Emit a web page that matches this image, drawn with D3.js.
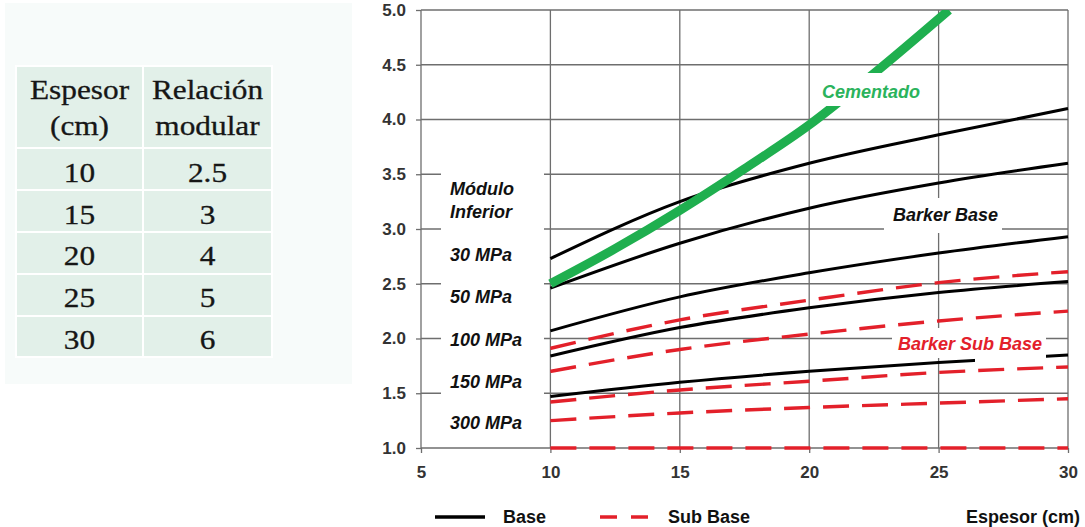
<!DOCTYPE html>
<html>
<head>
<meta charset="utf-8">
<script src="https://cdn.jsdelivr.net/npm/d3@7"></script>
<style>
  html, body { margin: 0; padding: 0; background: #ffffff; }
  svg { display: block; }
</style>
</head>
<body>
<svg id="chart" width="1085" height="527"></svg>
<script>
// Espesor de capa (cm) en los que se leen las curvas
const espesor = [10, 15, 20, 25, 30];

// Curvas Barker Base (relación modular) por módulo inferior
const base30  = [2.73, 3.25, 3.60, 3.86, 4.10];
const base50  = [2.46, 2.87, 3.19, 3.42, 3.60];
const base100 = [2.07, 2.38, 2.60, 2.78, 2.93];
const base150 = [1.84, 2.10, 2.28, 2.42, 2.52];
const base300 = [1.47, 1.60, 1.70, 1.78, 1.85];

// Curvas Barker Sub Base
const sub30  = [1.91, 2.17, 2.35, 2.51, 2.61];
const sub50  = [1.70, 1.90, 2.04, 2.16, 2.25];
const sub100 = [1.42, 1.53, 1.61, 1.69, 1.74];
const sub150 = [1.25, 1.32, 1.37, 1.41, 1.45];
const sub300 = [1.00, 1.00, 1.00, 1.00, 1.00];

// Curva para material cementado
const cementadoEspesor = [10, 12.5, 15, 17.5, 20, 22.5, 25.4];
const cementadoRelacion = [2.5, 2.82, 3.17, 3.55, 3.95, 4.42, 5.0];

// Etiquetas de módulo inferior
const moduloLabels = ["30 MPa", "50 MPa", "100 MPa", "150 MPa", "300 MPa"];
const moduloLabelY = [2.76, 2.38, 1.99, 1.60, 1.23];

// Ejes
const xTicks = [5, 10, 15, 20, 25, 30];
const yTicks = [1.0, 1.5, 2.0, 2.5, 3.0, 3.5, 4.0, 4.5, 5.0];

// Tabla de relación modular
const tablaHeader = [["Espesor", "(cm)"], ["Relación", "modular"]];
const tablaEspesor = ["10", "15", "20", "25", "30"];
const tablaRelacion = ["2.5", "3", "4", "5", "6"];

const svg = d3.select("#chart");

// ---------- panel izquierdo con la tabla ----------
svg.append("rect").attr("x", 5).attr("y", 3).attr("width", 347).attr("height", 381)
  .attr("fill", "#f7fbfa");

const colX = [16, 143, 272];
const rowY = [66, 148, 190, 232, 274, 316, 357];
const tabla = svg.append("g");
for (let r = 0; r < rowY.length - 1; r++) {
  for (let c = 0; c < 2; c++) {
    tabla.append("rect")
      .attr("x", colX[c]).attr("y", rowY[r])
      .attr("width", colX[c + 1] - colX[c]).attr("height", rowY[r + 1] - rowY[r])
      .attr("fill", "#e2f0e9").attr("stroke", "#ffffff").attr("stroke-width", 2);
  }
}
function celda(txt, cx, by) {
  tabla.append("text")
    .attr("transform", `translate(${cx},${by}) scale(1.16,1)`)
    .attr("text-anchor", "middle")
    .attr("font-family", "'Liberation Serif', 'Times New Roman', serif")
    .attr("font-size", 27).attr("fill", "#161616")
    .attr("stroke", "#161616").attr("stroke-width", 0.3)
    .text(txt);
}
const colC = [79.5, 207.5];
tablaHeader.forEach((h, c) => {
  celda(h[0], colC[c], 99);
  celda(h[1], colC[c], 135);
});
tablaEspesor.forEach((t, i) => celda(t, colC[0], 182 + i * 41.7));
tablaRelacion.forEach((t, i) => celda(t, colC[1], 182 + i * 41.7));

// ---------- gráfico ----------
const x = d3.scaleLinear().domain([5, 30]).range([421, 1068]);
const y = d3.scaleLinear().domain([1, 5]).range([448, 10]);

const gridColor = "#6e6e6e";
const grid = svg.append("g");
grid.selectAll("line.h").data(yTicks).join("line")
  .attr("x1", x(5)).attr("x2", x(30))
  .attr("y1", d => y(d)).attr("y2", d => y(d))
  .attr("stroke", gridColor).attr("stroke-width", 1.3);
grid.selectAll("line.v").data(xTicks).join("line")
  .attr("x1", d => x(d)).attr("x2", d => x(d))
  .attr("y1", y(5)).attr("y2", y(1))
  .attr("stroke", gridColor).attr("stroke-width", 1.3);

const axisFont = "'Liberation Sans', Arial, sans-serif";
const yAxis = svg.append("g").attr("transform", `translate(${x(5)},0)`)
  .call(d3.axisLeft(y).tickValues(yTicks).tickFormat(d3.format(".1f")).tickSize(5).tickPadding(10));
const xAxis = svg.append("g").attr("transform", `translate(0,${y(1)})`)
  .call(d3.axisBottom(x).tickValues(xTicks).tickFormat(d3.format("d")).tickSize(5).tickPadding(13));
[yAxis, xAxis].forEach(a => {
  a.select(".domain").remove();
  a.selectAll(".tick line").attr("stroke", gridColor).attr("stroke-width", 1.3);
  a.selectAll(".tick text").attr("font-family", axisFont).attr("font-weight", "bold")
    .attr("font-size", 17).attr("fill", "#333333");
});

svg.append("clipPath").attr("id", "plot")
  .append("rect").attr("x", x(5) - 10).attr("y", y(5)).attr("width", x(30) - x(5) + 20).attr("height", y(1) - y(5) + 10);

const linea = d3.line().x(d => x(d[0])).y(d => y(d[1])).curve(d3.curveMonotoneX);
const curvas = svg.append("g").attr("clip-path", "url(#plot)");

const subBase = [sub30, sub50, sub100, sub150, sub300];
const base = [base30, base50, base100, base150, base300];

subBase.forEach(s => {
  curvas.append("path").datum(espesor.map((e, i) => [e, s[i]]))
    .attr("d", linea).attr("fill", "none")
    .attr("stroke", "#e3202a").attr("stroke-width", 3.4)
    .attr("stroke-dasharray", "26,13");
});
base.forEach(s => {
  curvas.append("path").datum(espesor.map((e, i) => [e, s[i]]))
    .attr("d", linea).attr("fill", "none")
    .attr("stroke", "#000000").attr("stroke-width", 3);
});
curvas.append("path")
  .datum(cementadoEspesor.map((e, i) => [e, cementadoRelacion[i]]))
  .attr("d", linea).attr("fill", "none")
  .attr("stroke", "#1faf4f").attr("stroke-width", 9);

// Fondos blancos de las etiquetas
const fondos = svg.append("g").attr("fill", "#ffffff");
fondos.append("rect").attr("x", 441).attr("y", 165).attr("width", 103).attr("height", 276);
fondos.append("rect").attr("x", 817).attr("y", 73).attr("width", 113).attr("height", 33);
fondos.append("rect").attr("x", 884).attr("y", 198).attr("width", 118).attr("height", 35);
fondos.append("rect").attr("x", 892).attr("y", 328).attr("width", 154).attr("height", 30);
fondos.append("rect").attr("x", 975).attr("y", 356).attr("width", 71).attr("height", 10);

// Etiquetas
const etiquetas = svg.append("g")
  .attr("font-family", axisFont).attr("font-weight", "bold").attr("font-style", "italic")
  .attr("font-size", 18);
etiquetas.append("text").attr("x", 450).attr("y", 195).attr("fill", "#111").text("Módulo");
etiquetas.append("text").attr("x", 450).attr("y", 218).attr("fill", "#111").text("Inferior");
moduloLabels.forEach((t, i) => {
  etiquetas.append("text").attr("x", 450).attr("y", y(moduloLabelY[i]) + 6)
    .attr("fill", "#111").text(t);
});
etiquetas.append("text").attr("x", 822).attr("y", 98).attr("fill", "#2bb35c").text("Cementado");
etiquetas.append("text").attr("x", 893).attr("y", 221).attr("fill", "#111").text("Barker Base");
etiquetas.append("text").attr("x", 898).attr("y", 350).attr("fill", "#e3202a").text("Barker Sub Base");

// Leyenda
const ley = svg.append("g").attr("font-family", axisFont).attr("font-weight", "bold")
  .attr("font-size", 18).attr("fill", "#111");
ley.append("line").attr("x1", 435).attr("x2", 485).attr("y1", 517).attr("y2", 517)
  .attr("stroke", "#000").attr("stroke-width", 3.5);
ley.append("text").attr("x", 503).attr("y", 523).text("Base");
ley.append("line").attr("x1", 600).attr("x2", 650).attr("y1", 517).attr("y2", 517)
  .attr("stroke", "#e3202a").attr("stroke-width", 3.5).attr("stroke-dasharray", "17,14");
ley.append("text").attr("x", 668).attr("y", 523).text("Sub Base");
ley.append("text").attr("x", 1080).attr("y", 523).attr("text-anchor", "end").text("Espesor (cm)");
</script>
</body>
</html>
